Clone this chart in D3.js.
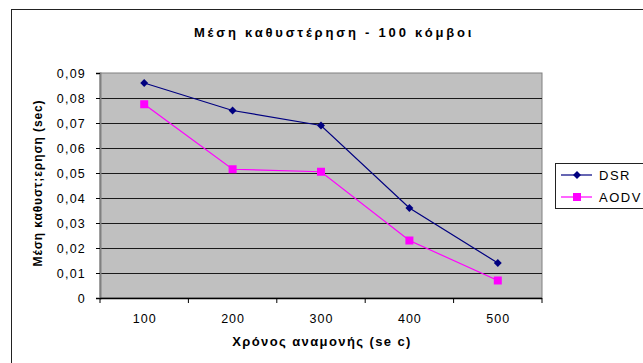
<!DOCTYPE html>
<html>
<head>
<meta charset="utf-8">
<script src="https://cdn.jsdelivr.net/npm/d3@7"></script>
<style>
  html, body { margin: 0; padding: 0; background: #fff; }
  svg { display: block; font-family: "Liberation Sans", Arial, sans-serif; }
</style>
</head>
<body>
<svg id="chart" width="643" height="363"></svg>
<script>
// Waiting time categories (x axis)
const categories = ["100", "200", "300", "400", "500"];
// Mean delay per protocol (sec)
const dsrValues  = [0.086, 0.075, 0.069, 0.036, 0.014];
const aodvValues = [0.0775, 0.0515, 0.0505, 0.023, 0.007];
// Y tick values and labels
const yTicks = [0, 0.01, 0.02, 0.03, 0.04, 0.05, 0.06, 0.07, 0.08, 0.09];
const yTickLabels = ["0", "0,01", "0,02", "0,03", "0,04", "0,05", "0,06", "0,07", "0,08", "0,09"];
const seriesNames = ["DSR", "AODV"];

const svg = d3.select("#chart");
const plot = { left: 100, right: 542, top: 73, bottom: 298 };

// chart frame
svg.append("rect")
  .attr("x", 11.5).attr("y", 9.5)
  .attr("width", 700).attr("height", 400)
  .attr("fill", "#fff").attr("stroke", "#222").attr("stroke-width", 1);

const x = d3.scaleBand().domain(categories).range([plot.left, plot.right]);
const y = d3.scaleLinear().domain([0, 0.09]).range([plot.bottom, plot.top]);

// plot area
svg.append("rect")
  .attr("x", plot.left).attr("y", plot.top)
  .attr("width", plot.right - plot.left).attr("height", plot.bottom - plot.top)
  .attr("fill", "#c0c0c0").attr("stroke", "#808080").attr("stroke-width", 1);

// gridlines
svg.append("g").selectAll("line")
  .data(yTicks.filter(v => v > 0 && v < 0.09))
  .join("line")
  .attr("x1", plot.left).attr("x2", plot.right)
  .attr("y1", d => Math.round(y(d)) + 0.5).attr("y2", d => Math.round(y(d)) + 0.5)
  .attr("stroke", "#1a1a1a").attr("stroke-width", 1);

// y axis
const yAxis = d3.axisLeft(y)
  .tickValues(yTicks)
  .tickFormat((d, i) => yTickLabels[i])
  .tickSize(4).tickPadding(10);
const gy = svg.append("g").attr("transform", `translate(${plot.left},0)`).call(yAxis);
gy.select(".domain").attr("stroke", "#808080").attr("stroke-width", 2);
gy.selectAll(".tick line").attr("stroke", "#000");
gy.selectAll("text")
  .attr("font-size", 12.5).attr("font-family", "Liberation Sans, Arial, sans-serif")
  .attr("fill", "#000").attr("letter-spacing", "1.2px");

// x axis with ticks at band boundaries
const gx = svg.append("g").attr("transform", `translate(0,${plot.bottom})`);
gx.append("line")
  .attr("x1", plot.left).attr("x2", plot.right).attr("y1", 0.5).attr("y2", 0.5)
  .attr("stroke", "#000").attr("stroke-width", 1.5);
const bounds = categories.map(c => x(c)).concat([x(categories[categories.length - 1]) + x.bandwidth()]);
gx.selectAll("line.tk").data(bounds).join("line").attr("class", "tk")
  .attr("x1", d => d).attr("x2", d => d).attr("y1", 0).attr("y2", 5)
  .attr("stroke", "#000");
gx.selectAll("text").data(categories).join("text")
  .attr("x", d => x(d) + x.bandwidth() / 2 + 0.5).attr("y", 24.5)
  .attr("text-anchor", "middle").attr("font-size", 12.5)
  .attr("letter-spacing", "1px").attr("fill", "#000")
  .text(d => d);

// series lines and markers
const line = d3.line()
  .x((d, i) => x(categories[i]) + x.bandwidth() / 2)
  .y(d => y(d));

svg.append("path").datum(dsrValues).attr("d", line)
  .attr("fill", "none").attr("stroke", "#000080").attr("stroke-width", 1.2);
svg.append("path").datum(aodvValues).attr("d", line)
  .attr("fill", "none").attr("stroke", "#ff00ff").attr("stroke-width", 1.2);

const diamond = d3.symbol().type(d3.symbolDiamond2).size(40);
svg.append("g").selectAll("path").data(dsrValues).join("path")
  .attr("transform", (d, i) => `translate(${x(categories[i]) + x.bandwidth() / 2},${y(d)})`)
  .attr("d", diamond).attr("fill", "#000080");

svg.append("g").selectAll("rect").data(aodvValues).join("rect")
  .attr("x", (d, i) => x(categories[i]) + x.bandwidth() / 2 - 4)
  .attr("y", d => y(d) - 4)
  .attr("width", 8).attr("height", 8).attr("fill", "#ff00ff");

// titles
svg.append("text")
  .attr("x", 334).attr("y", 36.5).attr("text-anchor", "middle")
  .attr("font-size", 13).attr("font-weight", "bold").attr("letter-spacing", "2.8px")
  .text("Μέση καθυστέρηση - 100 κόμβοι");

svg.append("text")
  .attr("x", 322).attr("y", 346).attr("text-anchor", "middle")
  .attr("font-size", 13).attr("font-weight", "bold").attr("letter-spacing", "1.4px")
  .text("Χρόνος αναμονής (se c)");

svg.append("text")
  .attr("transform", "translate(41.5,183) rotate(-90)")
  .attr("text-anchor", "middle")
  .attr("font-size", 12).attr("font-weight", "bold").attr("letter-spacing", "0.9px")
  .text("Μέση καθυστ;ερηση (sec)");

// legend
const lg = svg.append("g");
lg.append("rect").attr("x", 555.5).attr("y", 163.5).attr("width", 120).attr("height", 45)
  .attr("fill", "#fff").attr("stroke", "#222");
const rows = [
  { name: seriesNames[0], color: "#000080", yy: 175 },
  { name: seriesNames[1], color: "#ff00ff", yy: 197 }
];
rows.forEach((r, i) => {
  lg.append("line").attr("x1", 561).attr("x2", 592).attr("y1", r.yy).attr("y2", r.yy)
    .attr("stroke", r.color).attr("stroke-width", 1.2);
  if (i === 0) {
    lg.append("path").attr("transform", `translate(577,${r.yy})`).attr("d", diamond).attr("fill", r.color);
  } else {
    lg.append("rect").attr("x", 573).attr("y", r.yy - 4).attr("width", 8).attr("height", 8).attr("fill", r.color);
  }
  lg.append("text").attr("x", 599).attr("y", r.yy + 4.5)
    .attr("font-size", 13).attr("letter-spacing", "1.5px").text(r.name);
});
</script>
</body>
</html>
